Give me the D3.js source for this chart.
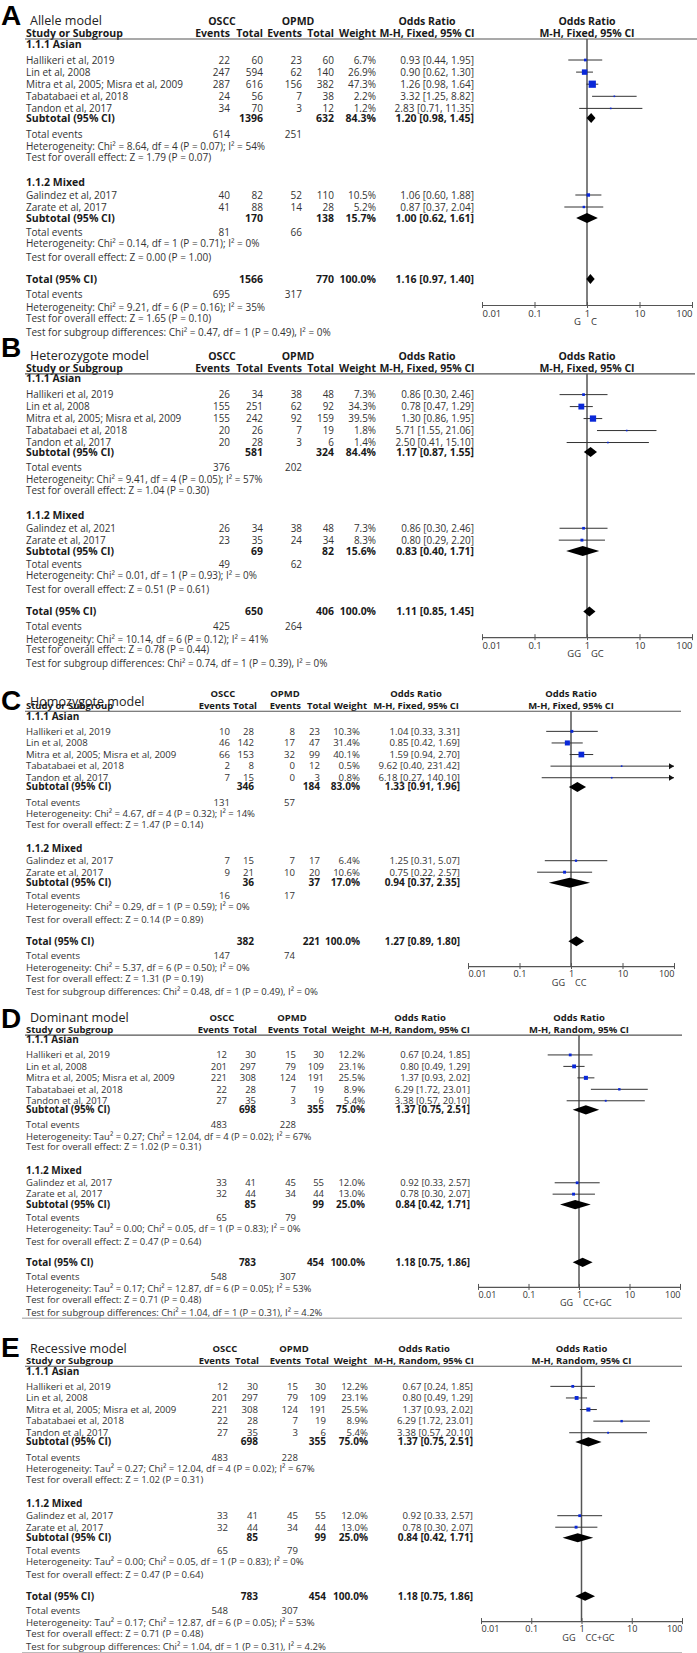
<!DOCTYPE html>
<html>
<head>
<meta charset="utf-8">
<script src="https://cdnjs.cloudflare.com/ajax/libs/d3/7.8.5/d3.min.js"></script>
<style>
body { margin: 0; background: #fff; }
text { font-family: "Open Sans", sans-serif; }
</style>
</head>
<body>
<svg id="chart"></svg>
<script>
// panel labels / text
const letters = ['A', 'B', 'C', 'D', 'E'];
const titles = ['Allele model', 'Heterozygote model', 'Homozygote model', 'Dominant model', 'Recessive model'];
const methods = ['M-H, Fixed, 95% CI', 'M-H, Fixed, 95% CI', 'M-H, Fixed, 95% CI', 'M-H, Random, 95% CI', 'M-H, Random, 95% CI'];
const favours = [['G', 'C'], ['GG', 'GC'], ['GG', 'CC'], ['GG', 'CC+GC'], ['GG', 'CC+GC']];
const subgroups = ['1.1.1 Asian', '1.1.2 Mixed'];
const asianStudies = ['Hallikeri et al, 2019', 'Lin et al, 2008', 'Mitra et al, 2005; Misra et al, 2009', 'Tabatabaei et al, 2018', 'Tandon et al, 2017'];
const mixedStudies = [
    ['Galindez et al, 2017', 'Zarate et al, 2017'],
    ['Galindez et al, 2021', 'Zarate et al, 2017'],
    ['Galindez et al, 2017', 'Zarate et al, 2017'],
    ['Galindez et al, 2017', 'Zarate et al, 2017'],
    ['Galindez et al, 2017', 'Zarate et al, 2017']
];
const tickValues = [0.01, 0.1, 1, 10, 100];
const tickLabels = ['0.01', '0.1', '1', '10', '100'];

// study level values, one row per panel (5 asian + 2 mixed)
const oscEvents = [
    [22, 247, 287, 24, 34, 40, 41],
    [26, 155, 155, 20, 20, 26, 23],
    [10, 46, 66, 2, 7, 7, 9],
    [12, 201, 221, 22, 27, 33, 32],
    [12, 201, 221, 22, 27, 33, 32]
];
const oscTotal = [
    [60, 594, 616, 56, 70, 82, 88],
    [34, 251, 242, 26, 28, 34, 35],
    [28, 142, 153, 8, 15, 15, 21],
    [30, 297, 308, 28, 35, 41, 44],
    [30, 297, 308, 28, 35, 41, 44]
];
const opmdEvents = [
    [23, 62, 156, 7, 3, 52, 14],
    [38, 62, 92, 7, 3, 38, 24],
    [8, 17, 32, 0, 0, 7, 10],
    [15, 79, 124, 7, 3, 45, 34],
    [15, 79, 124, 7, 3, 45, 34]
];
const opmdTotal = [
    [60, 140, 382, 38, 12, 110, 28],
    [48, 92, 159, 19, 6, 48, 34],
    [23, 47, 99, 12, 3, 17, 20],
    [30, 109, 191, 19, 6, 55, 44],
    [30, 109, 191, 19, 6, 55, 44]
];
const weights = [
    [6.7, 26.9, 47.3, 2.2, 1.2, 10.5, 5.2],
    [7.3, 34.3, 39.5, 1.8, 1.4, 7.3, 8.3],
    [10.3, 31.4, 40.1, 0.5, 0.8, 6.4, 10.6],
    [12.2, 23.1, 25.5, 8.9, 5.4, 12.0, 13.0],
    [12.2, 23.1, 25.5, 8.9, 5.4, 12.0, 13.0]
];
const oddsRatio = [
    [0.93, 0.90, 1.26, 3.32, 2.83, 1.06, 0.87],
    [0.86, 0.78, 1.30, 5.71, 2.50, 0.86, 0.80],
    [1.04, 0.85, 1.59, 9.62, 6.18, 1.25, 0.75],
    [0.67, 0.80, 1.37, 6.29, 3.38, 0.92, 0.78],
    [0.67, 0.80, 1.37, 6.29, 3.38, 0.92, 0.78]
];
const ciLow = [
    [0.44, 0.62, 0.98, 1.25, 0.71, 0.60, 0.37],
    [0.30, 0.47, 0.86, 1.55, 0.41, 0.30, 0.29],
    [0.33, 0.42, 0.94, 0.40, 0.27, 0.31, 0.22],
    [0.24, 0.49, 0.93, 1.72, 0.57, 0.33, 0.30],
    [0.24, 0.49, 0.93, 1.72, 0.57, 0.33, 0.30]
];
const ciHigh = [
    [1.95, 1.30, 1.64, 8.82, 11.35, 1.88, 2.04],
    [2.46, 1.29, 1.95, 21.06, 15.10, 2.46, 2.20],
    [3.31, 1.69, 2.70, 231.42, 140.10, 5.07, 2.57],
    [1.85, 1.29, 2.02, 23.01, 20.10, 2.57, 2.07],
    [1.85, 1.29, 2.02, 23.01, 20.10, 2.57, 2.07]
];

// pooled values: [asian, mixed, total]
const poolOscTotal = [[1396, 170, 1566], [581, 69, 650], [346, 36, 382], [698, 85, 783], [698, 85, 783]];
const poolOpmdTotal = [[632, 138, 770], [324, 82, 406], [184, 37, 221], [355, 99, 454], [355, 99, 454]];
const poolOscEvents = [[614, 81, 695], [376, 49, 425], [131, 16, 147], [483, 65, 548], [483, 65, 548]];
const poolOpmdEvents = [[251, 66, 317], [202, 62, 264], [57, 17, 74], [228, 79, 307], [228, 79, 307]];
const poolWeight = [[84.3, 15.7, 100.0], [84.4, 15.6, 100.0], [83.0, 17.0, 100.0], [75.0, 25.0, 100.0], [75.0, 25.0, 100.0]];
const poolOR = [[1.20, 1.00, 1.16], [1.17, 0.83, 1.11], [1.33, 0.94, 1.27], [1.37, 0.84, 1.18], [1.37, 0.84, 1.18]];
const poolLow = [[0.98, 0.62, 0.97], [0.87, 0.40, 0.85], [0.91, 0.37, 0.89], [0.75, 0.42, 0.75], [0.75, 0.42, 0.75]];
const poolHigh = [[1.45, 1.61, 1.40], [1.55, 1.71, 1.45], [1.96, 2.35, 1.80], [2.51, 1.71, 1.86], [2.51, 1.71, 1.86]];
const tau2 = [null, null, null, [0.27, 0.00, 0.17], [0.27, 0.00, 0.17]];
const chi2 = [[8.64, 0.14, 9.21], [9.41, 0.01, 10.14], [4.67, 0.29, 5.37], [12.04, 0.05, 12.87], [12.04, 0.05, 12.87]];
const hetDf = [4, 1, 6];
const hetP = [[0.07, 0.71, 0.16], [0.05, 0.93, 0.12], [0.32, 0.59, 0.50], [0.02, 0.83, 0.05], [0.02, 0.83, 0.05]];
const iSq = [[54, 0, 35], [57, 0, 41], [14, 0, 0], [67, 0, 53], [67, 0, 53]];
const zVal = [[1.79, 0.00, 1.65], [1.04, 0.51, 0.78], [1.47, 0.14, 1.31], [1.02, 0.47, 0.71], [1.02, 0.47, 0.71]];
const zP = [[0.07, 1.00, 0.10], [0.30, 0.61, 0.44], [0.14, 0.89, 0.19], [0.31, 0.64, 0.48], [0.31, 0.64, 0.48]];
const diffChi2 = [0.47, 0.74, 0.48, 1.04, 1.04];
const diffP = [0.49, 0.39, 0.49, 0.31, 0.31];
const diffISq = [0, 0, 0, 4.2, 4.2];

let width = 697, height = 1653;

// where each panel sits (its own scan has slightly different scale)
let layout = [
    {top: 21, sy: 1.0, cols: [230, 263, 302, 334, 376, 474], head: [230, 263, 302, 334, 376], hs: 1, orHead: 427, groupHead: [222, 298], xr: [482, 692], ruleEnd: 697, letterDy: 4, titleDy: 4, box: 1.05, dia: 5},
    {top: 356, sy: 0.99, cols: [230, 263, 302, 334, 376, 474], head: [230, 263, 302, 334, 376], hs: 1, orHead: 427, groupHead: [222, 298], xr: [482, 692], ruleEnd: 695, letterDy: 1, titleDy: 4, box: 1.0, dia: 5},
    {top: 694, sy: 0.958, cols: [230, 254, 295, 320, 360, 460], head: [230, 257, 301, 331, 367], hs: 0.9, orHead: 416, groupHead: [223, 285], xr: [468, 674], ruleEnd: 681, letterDy: 16, titleDy: 11.5, box: 0.9, dia: 5},
    {top: 1018, sy: 0.947, cols: [227, 256, 296, 324, 365, 470], head: [229, 257, 299, 327, 365], hs: 0.9, orHead: 420, groupHead: [222, 292], xr: [478, 680], ruleEnd: 682, letterDy: 10, titleDy: 4, box: 0.8, dia: 4.6, bottomRule: true},
    {top: 1349, sy: 0.958, cols: [228, 258, 298, 326, 368, 473], head: [230, 259, 301, 329, 367], hs: 0.9, orHead: 424, groupHead: [225, 294], xr: [481, 682], ruleEnd: 682, letterDy: 8, titleDy: 4, box: 0.8, dia: 4.6, bottomRule: true}
];

// row centres relative to panel top (panel A units)
let rows = {
    head1: 0, head2: 12, rule: 18,
    group: [23, 161],
    studies: [[39, 51.1, 63.2, 75.3, 87.4], [174, 186]],
    subtotal: [97, 197], events: [113, 211], het: [125, 222], test: [136, 236],
    total: 258, totalEvents: 273, totalHet: 286, totalTest: 297, diff: 311,
    axis: 284, fav: 301, bottom: 317
};

const f2 = d3.format('.2f');
const f1 = d3.format('.1f');
let ciText = (o, l, h) => `${f2(o)} [${f2(l)}, ${f2(h)}]`;

const svg = d3.select('#chart')
    .attr('width', width)
    .attr('height', height)
    .style('background', '#fff');

// pick font sizes so that reference strings come out at their measured widths
function fitSize(str, weight, target) {
    let t = svg.append('text').style('font-size', '10px').style('font-weight', weight).text(str);
    let w = t.node().getComputedTextLength();
    t.remove();
    return 10 * target / w;
}
let regSize = fitSize('Mitra et al, 2005; Misra et al, 2009', 'normal', 157);
let boldSize = fitSize('Study or Subgroup', 'bold', 97);
let titleSize = fitSize('Allele model', 'normal', 72);
let fscale = 1;

function label(g, x, y, s, anchor, bold, size) {
    return g.append('text')
        .attr('x', x)
        .attr('y', y)
        .attr('dy', '0.35em')
        .attr('text-anchor', anchor || 'start')
        .style('font-weight', bold ? 'bold' : 'normal')
        .style('font-size', (size || (bold ? boldSize : regSize) * fscale) + 'px')
        .attr('fill', bold ? '#1a1a1a' : '#333')
        .text(s);
}

function hetText(p, k) {
    let tau = tau2[p] ? `Tau² = ${f2(tau2[p][k])}; ` : '';
    return `Heterogeneity: ${tau}Chi² = ${f2(chi2[p][k])}, df = ${hetDf[k]} (P = ${f2(hetP[p][k])}); I² = ${iSq[p][k]}%`;
}

letters.forEach((letter, p) => {
    let L = layout[p];
    let Y = v => L.top + v * L.sy;
    let x = d3.scaleLog().domain([0.01, 100]).range(L.xr);
    let c = L.cols;
    let hSize = boldSize * L.hs;
    fscale = L.sy;
    let g = svg.append('g');

    // letter + title
    g.append('text')
        .attr('x', 1).attr('y', L.top + L.letterDy)
        .style('font-family', '"Liberation Sans", Arial, sans-serif')
        .style('font-weight', 'bold').style('font-size', '28px')
        .attr('fill', '#000')
        .text(letter);
    g.append('text')
        .attr('x', 30).attr('y', L.top + L.titleDy)
        .style('font-size', titleSize + 'px')
        .attr('fill', '#222')
        .text(titles[p]);

    // headers
    label(g, L.groupHead[0], Y(rows.head1), 'OSCC', 'middle', true, hSize);
    label(g, L.groupHead[1], Y(rows.head1), 'OPMD', 'middle', true, hSize);
    label(g, L.orHead, Y(rows.head1), 'Odds Ratio', 'middle', true, hSize);
    label(g, x(1), Y(rows.head1), 'Odds Ratio', 'middle', true, hSize);
    label(g, 26, Y(rows.head2), 'Study or Subgroup', 'start', true, hSize);
    ['Events', 'Total', 'Events', 'Total', 'Weight'].forEach((h, i) => label(g, L.head[i], Y(rows.head2), h, 'end', true, hSize));
    label(g, L.orHead, Y(rows.head2), methods[p], 'middle', true, hSize);
    label(g, x(1), Y(rows.head2), methods[p], 'middle', true, hSize);

    g.append('line')
        .attr('x1', 25).attr('x2', L.ruleEnd)
        .attr('y1', Y(rows.rule)).attr('y2', Y(rows.rule))
        .attr('stroke', '#555').attr('stroke-width', 1.2);

    // line of no effect
    g.append('line')
        .attr('x1', x(1)).attr('x2', x(1))
        .attr('y1', Y(rows.rule)).attr('y2', Y(rows.axis))
        .attr('stroke', '#555').attr('stroke-width', 1.5);

    function diamond(y, o, lo, hi) {
        g.append('path')
            .attr('d', `M${x(lo)},${y} L${x(o)},${y - L.dia} L${x(hi)},${y} L${x(o)},${y + L.dia} Z`)
            .attr('fill', '#000');
    }

    [0, 1].forEach(k => {
        label(g, 26, Y(rows.group[k]), subgroups[k], 'start', true);
        let names = k == 0 ? asianStudies : mixedStudies[p];
        names.forEach((name, j) => {
            let i = k == 0 ? j : 5 + j;
            let y = Y(rows.studies[k][j]);
            label(g, 26, y, name);
            [oscEvents, oscTotal, opmdEvents, opmdTotal].forEach((arr, ci) => label(g, c[ci], y, arr[p][i], 'end'));
            label(g, c[4], y, f1(weights[p][i]) + '%', 'end');
            label(g, c[5], y, ciText(oddsRatio[p][i], ciLow[p][i], ciHigh[p][i]), 'end');

            // CI whisker, with arrow when it leaves the axis
            let lo = Math.max(ciLow[p][i], 0.01), hi = Math.min(ciHigh[p][i], 100);
            g.append('line')
                .attr('x1', x(lo)).attr('x2', x(hi))
                .attr('y1', y).attr('y2', y)
                .attr('stroke', '#333').attr('stroke-width', 1);
            if (ciHigh[p][i] > 100) {
                g.append('path')
                    .attr('d', `M${x(100) - 5},${y - 3} L${x(100)},${y} L${x(100) - 5},${y + 3} Z`)
                    .attr('fill', '#111');
            }
            let s = Math.max(1.6, L.box * Math.sqrt(weights[p][i]));
            g.append('rect')
                .attr('x', x(oddsRatio[p][i]) - s / 2).attr('y', y - s / 2)
                .attr('width', s).attr('height', s)
                .attr('fill', '#0a28d8');
        });

        let ys = Y(rows.subtotal[k]);
        label(g, 26, ys, 'Subtotal (95% CI)', 'start', true);
        label(g, c[1], ys, poolOscTotal[p][k], 'end', true);
        label(g, c[3], ys, poolOpmdTotal[p][k], 'end', true);
        label(g, c[4], ys, f1(poolWeight[p][k]) + '%', 'end', true);
        label(g, c[5], ys, ciText(poolOR[p][k], poolLow[p][k], poolHigh[p][k]), 'end', true);
        diamond(ys, poolOR[p][k], poolLow[p][k], poolHigh[p][k]);

        label(g, 26, Y(rows.events[k]), 'Total events');
        label(g, c[0], Y(rows.events[k]), poolOscEvents[p][k], 'end');
        label(g, c[2], Y(rows.events[k]), poolOpmdEvents[p][k], 'end');
        label(g, 26, Y(rows.het[k]), hetText(p, k));
        label(g, 26, Y(rows.test[k]), `Test for overall effect: Z = ${f2(zVal[p][k])} (P = ${f2(zP[p][k])})`);
    });

    // overall
    let yt = Y(rows.total);
    label(g, 26, yt, 'Total (95% CI)', 'start', true);
    label(g, c[1], yt, poolOscTotal[p][2], 'end', true);
    label(g, c[3], yt, poolOpmdTotal[p][2], 'end', true);
    label(g, c[4], yt, f1(poolWeight[p][2]) + '%', 'end', true);
    label(g, c[5], yt, ciText(poolOR[p][2], poolLow[p][2], poolHigh[p][2]), 'end', true);
    diamond(yt, poolOR[p][2], poolLow[p][2], poolHigh[p][2]);

    label(g, 26, Y(rows.totalEvents), 'Total events');
    label(g, c[0], Y(rows.totalEvents), poolOscEvents[p][2], 'end');
    label(g, c[2], Y(rows.totalEvents), poolOpmdEvents[p][2], 'end');
    label(g, 26, Y(rows.totalHet), hetText(p, 2));
    label(g, 26, Y(rows.totalTest), `Test for overall effect: Z = ${f2(zVal[p][2])} (P = ${f2(zP[p][2])})`);
    label(g, 26, Y(rows.diff), `Test for subgroup differences: Chi² = ${f2(diffChi2[p])}, df = 1 (P = ${f2(diffP[p])}), I² = ${diffISq[p]}%`);

    // axis
    let axis = g.append('g')
        .attr('transform', `translate(0,${Y(rows.axis)})`)
        .call(d3.axisBottom(x).tickValues(tickValues).tickFormat((d, i) => tickLabels[i]).tickSizeOuter(0));
    axis.attr('font-family', null).attr('font-size', null);
    axis.select('.domain').attr('stroke', '#555').attr('stroke-width', 1.2);
    axis.selectAll('.tick line').attr('y1', -3).attr('y2', 3).attr('stroke', '#555');
    axis.selectAll('.tick text')
        .attr('y', 5 * L.sy)
        .attr('fill', '#333')
        .style('font-size', (regSize * 0.95 * L.sy) + 'px')
        .attr('text-anchor', (d, i) => i == 0 ? 'start' : (i == tickValues.length - 1 ? 'end' : 'middle'));

    label(g, x(1) - 6, Y(rows.fav), favours[p][0], 'end', false, regSize * 0.95 * L.sy);
    label(g, x(1) + 4, Y(rows.fav), favours[p][1], 'start', false, regSize * 0.95 * L.sy);

    if (L.bottomRule) {
        g.append('line')
            .attr('x1', 22).attr('x2', L.ruleEnd)
            .attr('y1', Y(rows.bottom)).attr('y2', Y(rows.bottom))
            .attr('stroke', '#bbb').attr('stroke-width', 1.5);
    }
});
</script>
</body>
</html>
